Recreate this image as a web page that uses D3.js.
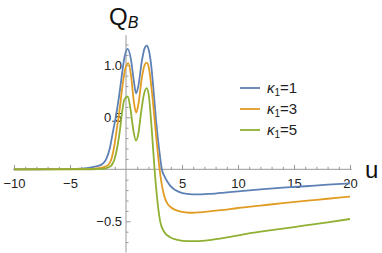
<!DOCTYPE html>
<html>
<head>
<meta charset="utf-8">
<script src="https://cdn.jsdelivr.net/npm/d3@7"></script>
<style>
  body { margin: 0; background: #fff; }
  text { font-family: "Liberation Sans", Arial, sans-serif; }
</style>
</head>
<body>
<div id="chart"></div>
<script>
var svgWidth = 382;
var svgHeight = 253;

// series: u values and Q_B values
var uBlue = [-10, -6, -4.5, -3.5, -2.8, -2.2, -1.8, -1.45, -1.15, -0.9, -0.65, -0.4, -0.15, 0.15, 0.45, 0.7, 0.9, 1.1, 1.4, 1.65, 1.85, 2.05, 2.25, 2.45, 2.7, 2.95, 3.2, 3.45, 3.7, 4.0, 4.4, 4.9, 5.5, 6.3, 7.5, 9, 10.5, 12, 14, 16, 18, 20];
var qBlue = [0, 0.001, 0.004, 0.012, 0.025, 0.045, 0.09, 0.2, 0.37, 0.51, 0.68, 0.88, 1.07, 1.157, 1.05, 0.85, 0.73, 0.8, 1.03, 1.16, 1.19, 1.14, 1.0, 0.77, 0.45, 0.2, 0.0, -0.07, -0.12, -0.165, -0.2, -0.225, -0.237, -0.242, -0.236, -0.222, -0.207, -0.193, -0.177, -0.163, -0.148, -0.135];

var uOrange = [-10, -4, -3, -2.4, -2.0, -1.6, -1.3, -1.05, -0.83, -0.6, -0.35, -0.1, 0.2, 0.45, 0.7, 0.9, 1.1, 1.4, 1.65, 1.85, 2.05, 2.3, 2.55, 2.8, 3.0, 3.2, 3.45, 3.7, 4.0, 4.4, 4.9, 5.7, 7, 8.5, 10, 12, 14, 16, 18, 20];
var qOrange = [0, 0.001, 0.004, 0.01, 0.02, 0.04, 0.1, 0.22, 0.38, 0.55, 0.77, 0.95, 1.02, 0.9, 0.65, 0.545, 0.62, 0.87, 1.0, 1.025, 0.97, 0.76, 0.48, 0.2, 0.0, -0.15, -0.27, -0.33, -0.365, -0.39, -0.408, -0.418, -0.41, -0.393, -0.372, -0.349, -0.326, -0.304, -0.283, -0.262];

var uGreen = [-10, -3, -2.2, -1.75, -1.5, -1.28, -1.05, -0.8, -0.54, -0.35, -0.15, 0.15, 0.4, 0.65, 0.89, 1.1, 1.35, 1.6, 1.85, 2.05, 2.3, 2.55, 2.8, 3.05, 3.4, 3.9, 4.6, 5.5, 6.3, 7.5, 9, 10.5, 12, 14, 16, 18, 20];
var qGreen = [0, 0.0005, 0.004, 0.012, 0.022, 0.04, 0.09, 0.2, 0.38, 0.55, 0.67, 0.70, 0.58, 0.38, 0.275, 0.34, 0.55, 0.72, 0.78, 0.7, 0.38, 0.0, -0.3, -0.5, -0.6, -0.65, -0.678, -0.69, -0.69, -0.68, -0.655, -0.625, -0.6, -0.57, -0.54, -0.51, -0.478];

var kappas = [1, 3, 5];
var colors = ["#5e81b5", "#e19c24", "#8fb032"];

var xMajor = [-10, -5, 5, 10, 15, 20];
var yMajor = [-0.5, 0.5, 1.0];

var series = [
  {u: uBlue, q: qBlue},
  {u: uOrange, q: qOrange},
  {u: uGreen, q: qGreen}
];

var svg = d3.select("#chart")
  .append("svg")
  .attr("width", svgWidth)
  .attr("height", svgHeight);

var x = d3.scaleLinear().domain([-10, 20]).range([14, 350]);
var y = d3.scaleLinear().domain([0, 1]).range([169.3, 65.3]);

var axisColor = "#999";
var labelColor = "#222";

// minor ticks
var xMinor = d3.range(-10, 21, 1).filter(d => d % 5 !== 0);
var yMinor = d3.range(-7, 13, 1).map(d => d / 10).filter(d => Math.abs(d * 10) % 5 !== 0);

var xAxisG = svg.append("g").attr("transform", `translate(0, ${y(0)})`);
xAxisG.append("g")
  .call(d3.axisBottom(x).tickValues(xMinor).tickFormat("").tickSizeInner(-2.5).tickSizeOuter(0));
xAxisG.append("g")
  .call(d3.axisBottom(x).tickValues(xMajor).tickFormat(d3.format("d")).tickSizeInner(-4.5).tickSizeOuter(0).tickPadding(9));

var yAxisG = svg.append("g").attr("transform", `translate(${x(0)}, 0)`);
yAxisG.append("g")
  .call(d3.axisLeft(y).tickValues(yMinor).tickFormat("").tickSizeInner(-2.5).tickSizeOuter(0));
yAxisG.append("g")
  .call(d3.axisLeft(y).tickValues(yMajor).tickFormat(d3.format(".1f")).tickSizeInner(-4.5).tickSizeOuter(0).tickPadding(4));

svg.selectAll(".domain").remove();
svg.selectAll(".tick line").attr("stroke", axisColor);
svg.selectAll(".tick text")
  .attr("fill", labelColor)
  .style("font-size", "13px")
  .style("font-family", "'Liberation Sans', Arial, sans-serif");

// axis lines
svg.append("line")
  .attr("x1", x(-10.1)).attr("x2", x(20.15))
  .attr("y1", y(0)).attr("y2", y(0))
  .attr("stroke", axisColor);
svg.append("line")
  .attr("x1", x(0)).attr("x2", x(0))
  .attr("y1", y(1.29)).attr("y2", y(-0.8))
  .attr("stroke", axisColor);

// curves
var line = d3.line()
  .x(d => x(d[0]))
  .y(d => y(d[1]))
  .curve(d3.curveMonotoneX);

series.forEach(function(s, i) {
  var pts = s.u.map((u, j) => [u, s.q[j]]);
  svg.append("path")
    .datum(pts)
    .attr("d", line)
    .attr("fill", "none")
    .attr("stroke", colors[i])
    .attr("stroke-width", 1.8);
});

// axis labels
var qLabel = svg.append("text")
  .attr("x", 109)
  .attr("y", 25)
  .style("font-size", "24px")
  .attr("fill", "#111");
qLabel.append("tspan").text("Q");
qLabel.append("tspan").attr("dy", 3).style("font-size", "16px").style("font-style", "italic").text("B");

svg.append("text")
  .attr("x", 365)
  .attr("y", 178)
  .style("font-size", "24px")
  .attr("fill", "#111")
  .text("u");

// legend
var legend = svg.append("g");
kappas.forEach(function(k, i) {
  var cy = 88 + i * 21;
  legend.append("line")
    .attr("x1", 240).attr("x2", 260)
    .attr("y1", cy).attr("y2", cy)
    .attr("stroke", colors[i])
    .attr("stroke-width", 1.8);
  var t = legend.append("text")
    .attr("x", 267)
    .attr("y", cy + 5)
    .attr("fill", labelColor)
    .style("font-size", "15px");
  t.append("tspan").style("font-style", "italic").text("κ");
  t.append("tspan").attr("dy", 3).style("font-size", "10px").text("1");
  t.append("tspan").attr("dy", -3).text("=" + k);
});
</script>
</body>
</html>
